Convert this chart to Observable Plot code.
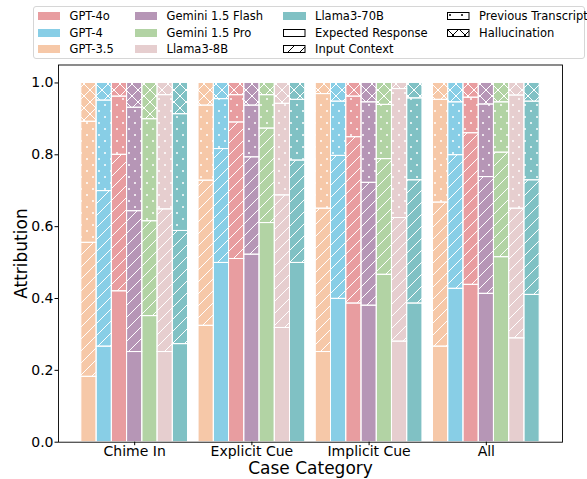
<!DOCTYPE html>
<html><head><meta charset="utf-8">
<script src="https://cdn.jsdelivr.net/npm/d3@7"></script>
<script src="https://cdn.jsdelivr.net/npm/@observablehq/plot@0.6"></script>
<style>
body{margin:0;background:#fff;font-family:"DejaVu Sans",sans-serif;}
#legend{position:relative;width:587px;height:60px;}
.lbox{position:absolute;left:33px;top:6px;width:552px;height:53px;border:1px solid #d6d6d6;border-radius:3px;box-sizing:border-box;}
.item{position:absolute;height:14px;font-size:11.5px;color:#000;white-space:nowrap;line-height:14px;}
.patch{position:absolute;top:3px;width:22.5px;height:8px;}
.ltext{position:absolute;top:0;}
</style></head><body>
<svg id="defs" width="0" height="0" style="position:absolute"><defs id="pdefs"></defs></svg>
<div id="legend"><div class="lbox"></div></div>
<div id="chart"></div>
<script>
const categories = ["Chime In", "Explicit Cue", "Implicit Cue", "All"];
const models = ["GPT-3.5", "GPT-4", "GPT-4o", "Gemini 1.5 Flash", "Gemini 1.5 Pro", "Llama3-8B", "Llama3-70B"];
const modelColors = ["#F6C8A8", "#88CEE6", "#E89DA0", "#B696B6", "#B2D3A4", "#E6CECF", "#80C1C4"];
const segments = ["Expected Response", "Input Context", "Previous Transcript", "Hallucination"];
const legendModels = ["GPT-4o", "GPT-4", "GPT-3.5", "Gemini 1.5 Flash", "Gemini 1.5 Pro", "Llama3-8B", "Llama3-70B"];

// rows: categories; columns: models (same order as `models`)
const expectedResponse = [
  [0.182, 0.266, 0.420, 0.251, 0.351, 0.251, 0.273],
  [0.324, 0.499, 0.510, 0.522, 0.610, 0.318, 0.499],
  [0.251, 0.399, 0.386, 0.380, 0.466, 0.280, 0.386],
  [0.266, 0.427, 0.438, 0.413, 0.515, 0.289, 0.410]
];
const inputContext = [
  [0.373, 0.433, 0.380, 0.392, 0.264, 0.397, 0.315],
  [0.404, 0.317, 0.380, 0.271, 0.263, 0.369, 0.285],
  [0.399, 0.398, 0.463, 0.342, 0.322, 0.344, 0.343],
  [0.401, 0.372, 0.422, 0.325, 0.291, 0.361, 0.319]
];
const previousTranscript = [
  [0.337, 0.252, 0.162, 0.288, 0.284, 0.318, 0.325],
  [0.209, 0.139, 0.076, 0.144, 0.093, 0.255, 0.169],
  [0.319, 0.151, 0.113, 0.224, 0.151, 0.359, 0.228],
  [0.286, 0.147, 0.099, 0.202, 0.140, 0.315, 0.219]
];
const hallucination = [
  [0.108, 0.049, 0.038, 0.069, 0.101, 0.034, 0.087],
  [0.063, 0.045, 0.034, 0.063, 0.034, 0.058, 0.047],
  [0.031, 0.052, 0.038, 0.054, 0.061, 0.017, 0.043],
  [0.047, 0.054, 0.041, 0.060, 0.054, 0.035, 0.052]
];
const yTicks = [0, 0.2, 0.4, 0.6, 0.8, 1.0];

// hatch patterns
const patternKinds = ["none", "diag", "dots", "cross"];
function patternMarkup(id, kind, color, t) {
  const diag = `<path d="M-1,1 L1,-1 M0,${t} L${t},0 M${t-1},${t+1} L${t+1},${t-1}" stroke="${color}" stroke-width="1" fill="none"/>`;
  const anti = `<path d="M-1,${t-1} L1,${t+1} M0,0 L${t},${t} M${t-1},-1 L${t+1},1" stroke="${color}" stroke-width="1" fill="none"/>`;
  let inner = "";
  if (kind === "diag") inner = diag;
  if (kind === "cross") inner = diag + anti;
  if (kind === "dots") inner = `<circle cx="${t/4}" cy="${t/4}" r="1" fill="${color}"/><circle cx="${3*t/4}" cy="${3*t/4}" r="1" fill="${color}"/>`;
  return `<pattern id="${id}" patternUnits="userSpaceOnUse" width="${t}" height="${t}">${inner}</pattern>`;
}
let defsHtml = "";
patternKinds.forEach(k => {
  defsHtml += patternMarkup("w-" + k, k, "white", 12);
  defsHtml += patternMarkup("b-" + k, k, "black", 12);
});
document.getElementById("pdefs").innerHTML = defsHtml;
const segPatterns = ["none", "url(#w-diag)", "url(#w-dots)", "url(#w-cross)"];
const legendSegKinds = ["none", "diag", "dots", "cross"];
const legendSegOrder = ["Expected Response", "Input Context", "Previous Transcript", "Hallucination"];

// legend
const legend = document.getElementById("legend");
const colX = [37.5, 134.5, 283, 447];
const rowY = [9, 25.5, 42];
const legendEntries = [
  ...legendModels.map(m => ({label: m, color: modelColors[models.indexOf(m)]})),
  ...legendSegOrder.map((s, i) => ({label: s, kind: legendSegKinds[i]}))
];
legendEntries.forEach((e, i) => {
  const col = Math.floor(i / 3), row = i % 3;
  const it = document.createElement("div");
  it.className = "item";
  it.style.left = colX[col] + "px";
  it.style.top = rowY[row] + "px";
  let patch;
  if (e.color) {
    patch = `<div class="patch" style="left:0;background:${e.color}"></div>`;
  } else {
    const fill = e.kind === "none" ? "white" : `url(#b-${e.kind})`;
    patch = `<svg class="patch" style="left:0" width="23" height="8"><rect x="0.5" y="0.5" width="21.5" height="7" fill="${fill}" stroke="black" stroke-width="1"/></svg>`;
  }
  it.innerHTML = patch + `<span class="ltext" style="left:32px">${e.label}</span>`;
  legend.appendChild(it);
});

// data rows
const segValues = [expectedResponse, inputContext, previousTranscript, hallucination];
const barW = 0.13;
const rows = [];
categories.forEach((c, ci) => {
  models.forEach((m, mi) => {
    let acc = 0;
    segValues.forEach((arr, si) => {
      const v = arr[ci][mi];
      const center = ci + (mi - 3) * barW;
      rows.push({cat: c, model: m, seg: si, x1: center - barW / 2, x2: center + barW / 2, y1: acc, y2: acc + v, color: modelColors[mi]});
      acc += v;
    });
  });
});

const chart = Plot.plot({
  width: 587,
  height: 419,
  marginLeft: 58,
  marginRight: 25,
  marginTop: 4.5,
  marginBottom: 37.3,
  style: {fontFamily: "DejaVu Sans", background: "white", color: "black"},
  x: {domain: [-0.65, 3.65]},
  y: {domain: [0, 1.05]},
  color: {type: "identity"},
  marks: [
    Plot.rect(rows, {x1: "x1", x2: "x2", y1: "y1", y2: "y2", fill: "color"}),
    ...segments.map((s, si) => Plot.rect(rows.filter(r => r.seg === si), {
      x1: "x1", x2: "x2", y1: "y1", y2: "y2", fill: segPatterns[si], stroke: "white", strokeWidth: 1
    })),
    Plot.frame({stroke: "black", strokeWidth: 0.9}),
    Plot.axisX({ticks: [0, 1, 2, 3], tickFormat: i => categories[i], tickSize: 3.5, tickPadding: 0.5, fontSize: 14, label: null}),
    Plot.axisY({ticks: yTicks, tickFormat: d3.format(".1f"), tickSize: 3.5, tickPadding: 1.5, fontSize: 14, label: null}),
    Plot.text(["Attribution"], {text: d => d, frameAnchor: "left", dx: -37, rotate: -90, textAnchor: "middle", lineAnchor: "middle", fontSize: 17}),
    Plot.text(["Case Category"], {text: d => d, frameAnchor: "bottom", dy: 26.5, textAnchor: "middle", lineAnchor: "middle", fontSize: 17})
  ]
});
document.getElementById("chart").appendChild(chart);
</script>
</body></html>
